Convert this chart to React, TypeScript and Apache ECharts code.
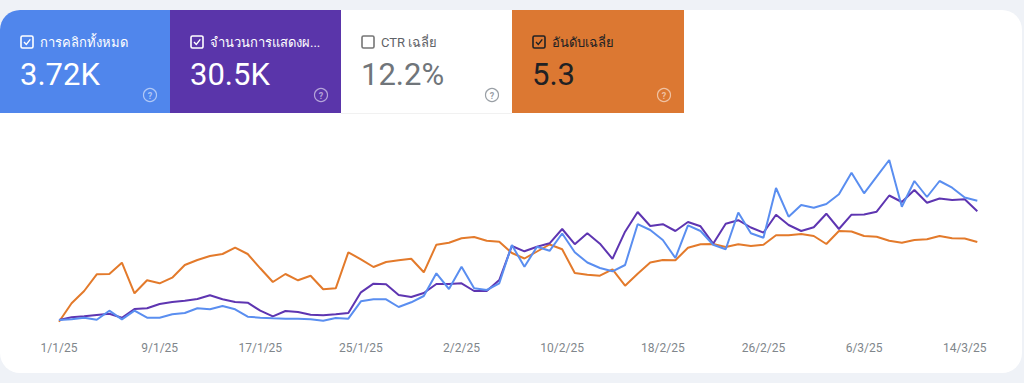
import React, { useEffect, useRef } from "react";
import * as echarts from "echarts";

// Relative daily values (hidden axis), 1/1/25 .. 15/3/25
const clicks = [
  2, 2.7, 4.3, 2.3, 11.3, 2.7, 11.3, 4.3, 4.3, 7.7, 9, 13.7, 12.7, 16, 12.7, 5.3, 4.3, 3.7, 3.3, 3.3,
  2.7, 1.3, 4, 3.3, 20.7, 22.7, 22.7, 15, 19.7, 26, 48.7, 33, 55.3, 33.7, 32, 38.7, 77, 55.2, 75.3, 71.2,
  88.5, 69.7, 59.5, 54, 50.7, 57, 97.8, 92, 82, 64, 96.7, 91, 77.3, 72.8, 109.5, 88.7, 84.3, 134, 105.3, 117,
  114.3, 118, 127.7, 149.3, 128.7, 145.3, 162, 115.3, 141, 125, 141, 134.3, 124.5, 121.3,
];
const impressions = [
  2, 4.7, 5.7, 7, 8.3, 4.3, 13, 13.7, 18, 20, 21.3, 23, 26.7, 22.7, 20, 19.3, 11.3, 5.7, 11, 10,
  7.3, 6.7, 7.7, 9, 29.7, 38.3, 37.7, 27, 25, 29, 38, 38, 38.7, 31, 31, 42, 76, 70.7, 75.3, 78.7,
  93, 77.8, 88.7, 78.3, 63.2, 90.3, 110, 96, 97.8, 91, 100, 95.7, 78.3, 98.2, 101.8, 94.5, 89.3, 107.3, 97, 91,
  94.7, 108.3, 93, 107.3, 107.5, 110.3, 126.5, 120, 132, 119.3, 123.5, 122, 122.7, 110.7,
];
const position = [
  0.3, 18.7, 31, 47.7, 48, 59.3, 28.7, 41.7, 38.7, 44.3, 57, 62, 66, 68, 74.3, 68, 53.7, 40, 48, 41.7,
  46.3, 32.7, 33.7, 69.7, 62.7, 55, 60, 61.7, 63.3, 49.7, 77.3, 79.3, 83.7, 85, 81.3, 80.3, 69, 63.5, 70.5, 77.5,
  72.7, 49, 47.3, 46.3, 52.7, 36.3, 48.3, 59.5, 62, 61.7, 74.3, 77.8, 78, 75, 77.8, 76, 77.3, 86.8, 86.8, 88,
  86, 78, 91, 90.5, 86, 85.3, 81.2, 79.3, 82, 82.7, 86, 83.7, 83.5, 80,
];
const monthLengths = [31, 28, 15];
const dates: string[] = [];
monthLengths.forEach((n, m) => {
  for (let d = 1; d <= n; d++) dates.push(`${d}/${m + 1}/25`);
});

const tileTitles = ["การคลิกทั้งหมด", "จำนวนการแสดงผ...", "CTR เฉลี่ย", "อันดับเฉลี่ย"];
const tileValues = ["3.72K", "30.5K", "12.2%", "5.3"];
const tileChecked = [true, true, false, true];

const FONT = 'Roboto, "Noto Sans", sans-serif';

export default function App() {
  const ref = useRef<HTMLDivElement>(null);
  useEffect(() => {
    if (!ref.current) return;
    const chart = echarts.init(ref.current, undefined, { renderer: "svg" });

    const tiles = [
      { x: 0, w: 170, fill: "#5086ec", text: "#ffffff", valueColor: "#ffffff", box: "#ffffff", help: "rgba(255,255,255,0.55)", r: [20, 0, 0, 0] },
      { x: 170, w: 171, fill: "#5a35aa", text: "#ffffff", valueColor: "#ffffff", box: "#ffffff", help: "rgba(255,255,255,0.55)", r: 0 },
      { x: 341, w: 171, fill: "#ffffff", text: "#5f6368", valueColor: "#70757a", box: "#757575", help: "#9aa0a6", r: 0 },
      { x: 512, w: 172, fill: "#dc7832", text: "#202124", valueColor: "#202124", box: "#202124", help: "rgba(255,255,255,0.55)", r: 0 },
    ];

    const graphics: any[] = [
      { type: "rect", shape: { x: 0, y: 10, width: 1022, height: 363, r: 20 }, style: { fill: "#ffffff" }, z: -10 },
      { type: "line", shape: { x1: 341, y1: 113, x2: 512, y2: 113 }, style: { stroke: "#e3e3e3", lineWidth: 1 } },
    ];
    tiles.forEach((t, i) => {
      const bx = t.x + 21;
      graphics.push({ type: "rect", shape: { x: t.x, y: 10, width: t.w, height: 103, r: t.r }, style: { fill: t.fill } });
      graphics.push({ type: "rect", shape: { x: bx, y: 36, width: 12, height: 12, r: 1.5 }, style: { fill: "none", stroke: t.box, lineWidth: 1.6 } });
      if (tileChecked[i]) {
        graphics.push({ type: "polyline", shape: { points: [[bx + 3, 42], [bx + 5.3, 44.4], [bx + 9.3, 39.4]] }, style: { fill: "none", stroke: t.box, lineWidth: 1.4 } });
      }
      graphics.push({ type: "text", x: bx + 19, y: 42, style: { text: tileTitles[i], fill: t.text, font: `13px ${FONT}`, textVerticalAlign: "middle" } });
      graphics.push({ type: "text", x: bx - 1, y: 74, style: { text: tileValues[i], fill: t.valueColor, font: `31px ${FONT}`, textVerticalAlign: "middle" } });
      const hx = t.x + t.w - 20;
      graphics.push({ type: "circle", shape: { cx: hx, cy: 95, r: 6.5 }, style: { fill: "none", stroke: t.help, lineWidth: 1.2 } });
      graphics.push({ type: "text", x: hx, y: 95.5, style: { text: "?", fill: t.help, font: `bold 9px ${FONT}`, textAlign: "center", textVerticalAlign: "middle" } });
    });

    chart.setOption({
      animation: false,
      backgroundColor: "#eff2f7",
      graphic: graphics,
      grid: { left: 59, right: 46.7, top: 152, bottom: 61 },
      xAxis: {
        type: "category",
        data: dates,
        boundaryGap: false,
        axisLine: { show: false },
        axisTick: { show: false },
        axisLabel: { interval: 7, color: "#80868b", fontSize: 12, fontFamily: FONT, margin: 20 },
        splitLine: { show: false },
      },
      yAxis: { type: "value", min: 0, max: 170, show: false, splitLine: { show: false } },
      series: [
        { name: "อันดับเฉลี่ย", type: "line", data: position, symbol: "none", lineStyle: { color: "#e37a2b", width: 2 }, itemStyle: { color: "#e37a2b" } },
        { name: "จำนวนการแสดงผล", type: "line", data: impressions, symbol: "none", lineStyle: { color: "#5e35b1", width: 2 }, itemStyle: { color: "#5e35b1" } },
        { name: "การคลิกทั้งหมด", type: "line", data: clicks, symbol: "none", lineStyle: { color: "#5a8ef0", width: 2 }, itemStyle: { color: "#5a8ef0" } },
      ],
    });
    return () => chart.dispose();
  }, []);
  return <div ref={ref} style={{ position: "fixed", left: 0, top: 0, width: 1024, height: 383 }} />;
}
